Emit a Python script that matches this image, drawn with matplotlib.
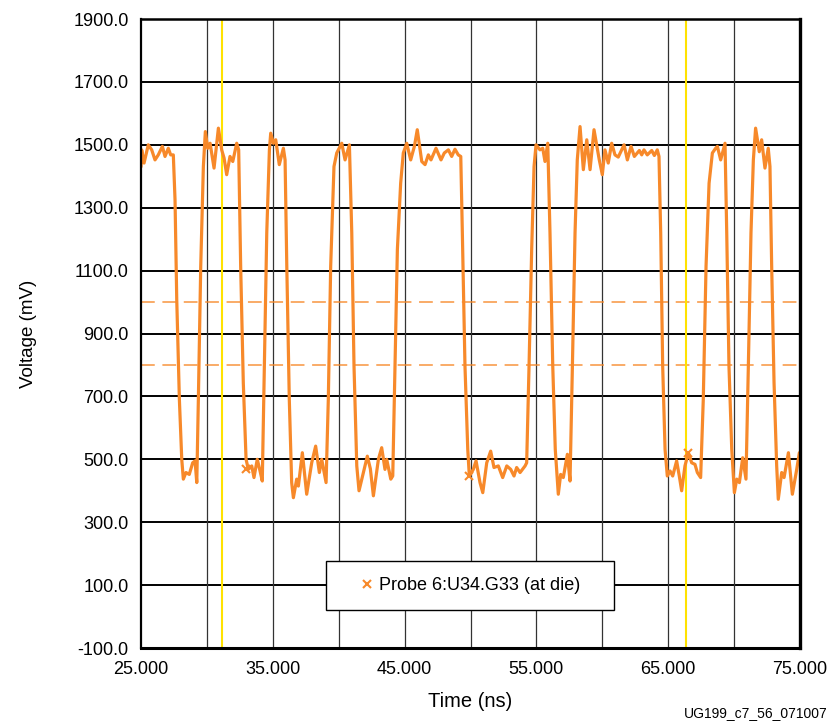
import matplotlib
matplotlib.use("Agg")
import matplotlib.pyplot as plt
from matplotlib.lines import Line2D
from matplotlib.patches import Rectangle

plt.rcParams['font.family'] = ['Liberation Sans', 'DejaVu Sans']

# ---- data ----
time_ns = [25.00, 25.05, 25.23, 25.55, 25.81, 26.06, 26.31, 26.62, 26.82, 27.07, 27.25, 27.45,
           27.58, 27.71, 27.91, 28.09, 28.21, 28.41, 28.66, 28.92, 29.10, 29.23,
           29.35, 29.53, 29.73, 29.88, 30.06, 30.24, 30.54, 30.87, 31.12, 31.30, 31.50, 31.75, 31.96, 32.26, 32.41,
           32.56, 32.76, 32.97, 33.14, 33.40, 33.57, 33.82, 34.03, 34.20,
           34.36, 34.54, 34.74, 34.84, 35.04, 35.22, 35.49, 35.80, 35.93,
           36.06, 36.25, 36.43, 36.56, 36.81, 36.94, 37.24, 37.57, 37.95, 38.25, 38.53, 38.71, 39.04,
           39.21, 39.39, 39.64, 39.85, 40.23, 40.48, 40.81,
           40.99, 41.16, 41.37, 41.54, 41.87, 42.17, 42.40, 42.63, 43.01, 43.26, 43.51, 43.64, 43.95, 44.10,
           44.27, 44.45, 44.70, 44.90, 45.16, 45.46, 45.74, 45.96, 46.30, 46.55, 46.80, 47.00, 47.38, 47.76,
           48.01, 48.32, 48.57, 48.82, 49.07, 49.26,
           49.38, 49.58, 49.79, 49.91, 50.21, 50.42, 50.72, 50.93, 51.23, 51.53, 51.78, 52.11, 52.44, 52.75,
           53.05, 53.30, 53.50, 53.76, 54.14, 54.26,
           54.44, 54.64, 54.82, 54.97, 55.27, 55.48, 55.65, 55.86,
           56.03, 56.24, 56.43, 56.66, 56.84, 57.04, 57.35, 57.55,
           57.73, 57.93, 58.10, 58.31, 58.56, 58.82, 59.07, 59.37, 59.77, 60.00, 60.20, 60.45, 60.71, 60.96,
           61.21, 61.65, 61.90, 62.18, 62.43, 62.81, 62.99, 63.16, 63.41, 63.75, 63.95, 64.17, 64.30,
           64.43, 64.58, 64.76, 64.93, 65.14, 65.34, 65.64, 65.84, 66.02, 66.27, 66.53, 66.78, 67.03, 67.21, 67.46,
           67.66, 67.87, 68.10, 68.35, 68.60, 68.73, 68.98, 69.31,
           69.44, 69.61, 69.82, 70.02, 70.20, 70.40, 70.65, 70.90,
           71.08, 71.28, 71.46, 71.63, 71.91, 72.09, 72.34, 72.59, 72.72,
           72.85, 73.03, 73.23, 73.35, 73.61, 73.79, 74.12, 74.42, 74.75, 74.95]
voltage_mv = [1430, 1484, 1442, 1500, 1484, 1452, 1468, 1495, 1463, 1489, 1468, 1468,
              1325, 1008, 690, 500, 437, 458, 452, 489, 495, 426,
              690, 1114, 1431, 1542, 1489, 1505, 1426, 1553, 1484, 1458, 1405, 1463, 1447, 1505, 1484,
              1114, 743, 500, 468, 479, 442, 500, 463, 431,
              796, 1220, 1484, 1537, 1505, 1516, 1437, 1489, 1452,
              1114, 690, 426, 378, 437, 415, 521, 389, 489, 542, 458, 500, 426,
              690, 1114, 1431, 1474, 1505, 1452, 1500,
              1220, 796, 479, 400, 458, 510, 470, 384, 500, 537, 468, 500, 437, 447,
              796, 1167, 1378, 1474, 1505, 1452, 1495, 1548, 1447, 1437, 1468, 1452, 1489, 1452,
              1474, 1484, 1463, 1486, 1468, 1463,
              1220, 796, 532, 447, 468, 495, 426, 394, 489, 526, 474, 479, 442, 479,
              468, 447, 474, 458, 479, 489,
              796, 1167, 1431, 1500, 1484, 1489, 1447, 1505,
              1220, 796, 532, 389, 452, 442, 516, 431,
              796, 1220, 1452, 1558, 1421, 1516, 1421, 1548, 1452, 1405, 1484, 1442, 1505, 1468,
              1461, 1500, 1452, 1495, 1463, 1482, 1468, 1484, 1468, 1482, 1466, 1484, 1463,
              1220, 796, 532, 447, 463, 447, 495, 447, 400, 479, 521, 489, 484, 458, 442,
              690, 1114, 1378, 1474, 1489, 1495, 1452, 1505,
              1220, 796, 532, 394, 437, 426, 505, 437,
              796, 1220, 1452, 1553, 1478, 1516, 1426, 1489, 1431,
              1114, 743, 479, 373, 458, 442, 521, 389, 468, 521]

marker_t = [33.00, 49.90, 66.53]
marker_v = [468, 447, 521]

threshold_mv = [1000, 800]
cursor_ns = [31.15, 66.35]

x_ticks = [25, 35, 45, 55, 65, 75]
x_grid = [30, 35, 40, 45, 50, 55, 60, 65, 70]
y_ticks = [-100, 100, 300, 500, 700, 900, 1100, 1300, 1500, 1700, 1900]

series_label = "Probe 6:U34.G33 (at die)"
orange = "#f7892a"

fig = plt.figure(figsize=(8.33, 7.23), dpi=100)
ax = fig.add_axes([0.1693, 0.1037, 0.7911, 0.8700])

ax.set_xlim(25, 75)
ax.set_ylim(-100, 1900)

# grid
for y in y_ticks:
    ax.axhline(y, color="black", lw=1.4, zorder=1)
for x in x_grid:
    ax.axvline(x, color="#333333", lw=0.9, zorder=1)

# thresholds
for y in threshold_mv:
    ax.axhline(y, color=orange, lw=1.1, ls=(0, (9, 5)), alpha=0.9, zorder=2)

# cursors
for x in cursor_ns:
    ax.axvline(x, color="#ffe200", lw=1.5, zorder=2)

ax.plot(time_ns, voltage_mv, color=orange, lw=2.3, solid_joinstyle="round",
        solid_capstyle="round", zorder=3)
ax.plot(marker_t, marker_v, ls="none", marker="x", ms=5.5, mew=1.5, color=orange, zorder=4)

ax.set_xticks(x_ticks)
ax.set_xticklabels([f"{v:.3f}" for v in x_ticks])
ax.set_yticks(y_ticks)
ax.set_yticklabels([f"{v:.1f}" for v in y_ticks])
ax.tick_params(length=0, labelsize=13, pad=9)

for side, lw in [("left", 1.6), ("bottom", 2.2), ("right", 2.4), ("top", 1.8)]:
    ax.spines[side].set_linewidth(lw)
    ax.spines[side].set_color("black")
    ax.spines[side].set_zorder(5)

ax.set_xlabel("Time (ns)", fontsize=14.5, labelpad=10.5)
ax.set_ylabel("Voltage (mV)", fontsize=13.5, labelpad=26)

# legend box (frame drawn separately to match the reference's padding)
ax.add_patch(Rectangle((0.2807, 0.0604), 0.4371, 0.0779, transform=ax.transAxes,
                       facecolor="white", edgecolor="black", lw=1.0, zorder=5.5))
handle = Line2D([], [], ls="none", marker="x", ms=5.5, mew=1.5, color=orange)
leg = ax.legend([handle], [series_label], loc="center left", bbox_to_anchor=(0.3293, 0.0994),
                fontsize=13, frameon=False, borderpad=0, borderaxespad=0,
                handlelength=1.0, handletextpad=0.17)
leg.set_zorder(6)

fig.text(0.994, 0.0138, "UG199_c7_56_071007", ha="right", va="center", fontsize=10)

fig.savefig("out.png", dpi=100)
